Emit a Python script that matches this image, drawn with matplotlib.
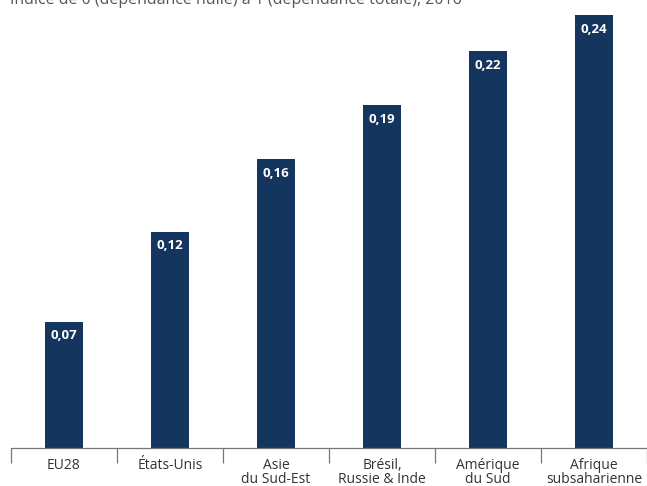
import matplotlib
matplotlib.use("Agg")
import matplotlib.pyplot as plt
import numpy as np

categories = ["EU28", "États-Unis", "Asie\ndu Sud-Est", "Brésil,\nRussie & Inde",
              "Amérique\ndu Sud", "Afrique\nsubsaharienne"]
values = [0.07, 0.12, 0.16, 0.19, 0.22, 0.24]
subtitle = "Indice de 0 (dépendance nulle) à 1 (dépendance totale), 2016"

bar_color = "#13355e"
grey = "#555555"

plt.rcParams["font.family"] = ["Open Sans", "DejaVu Sans"]

fig = plt.figure(figsize=(6.47, 4.86), dpi=100)
ax = fig.add_axes([11 / 647, 1 - 448 / 486, 636 / 647, 448 / 486])

x = np.arange(len(categories))
ax.bar(x, values, width=0.36, color=bar_color, zorder=2)

for xi, v in zip(x, values):
    ax.text(xi, v - 0.0042, f"{v:.2f}".replace(".", ","), ha="center", va="top",
            color="white", fontsize=9.5, fontweight="bold")

ax.set_xlim(-0.5, len(categories) - 0.5)
ax.set_ylim(0, 448 / 1804)

for s in ["top", "right", "left"]:
    ax.spines[s].set_visible(False)
ax.spines["bottom"].set_color("#777777")
ax.spines["bottom"].set_linewidth(0.9)
ax.set_yticks([])

ax.set_xticks(x)
ax.set_xticklabels(categories, fontsize=10, color="#333333", linespacing=0.9)
ax.tick_params(axis="x", which="major", length=0, pad=7)
ax.set_xticks(np.arange(-0.5, len(categories)), minor=True)
ax.tick_params(axis="x", which="minor", length=11, width=0.9, color="#777777")

fig.text(10 / 647, 1 - 4 / 486, subtitle, ha="left", va="baseline",
         fontsize=11.5, color=grey)

fig.savefig("out.png", dpi=100)
